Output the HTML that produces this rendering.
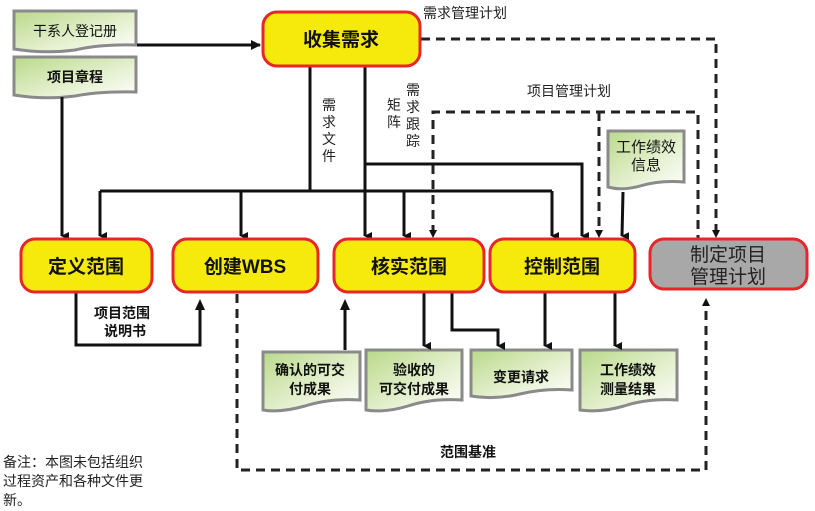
<!DOCTYPE html>
<html><head><meta charset="utf-8"><style>
html,body{margin:0;padding:0;background:#fff;}
svg{display:block;font-family:"Liberation Sans","Noto Sans CJK SC",sans-serif;}
.b{font-weight:bold;fill:#111;}
</style></head><body>
<svg width="815" height="511" viewBox="0 0 815 511" xmlns="http://www.w3.org/2000/svg">
<defs>
<linearGradient id="g" x1="0" y1="0" x2="1" y2="1">
<stop offset="0" stop-color="#b9d98a"/><stop offset="0.6" stop-color="#e6f1d2"/><stop offset="1" stop-color="#ffffff"/>
</linearGradient>
<marker id="a" markerWidth="8" markerHeight="8" refX="4" refY="7" orient="auto" markerUnits="userSpaceOnUse" viewBox="0 0 8 8">
<path d="M0,0 L8,0 L4,8 z" fill="#111"/></marker>
<marker id="ar" markerWidth="10" markerHeight="10" refX="9" refY="5" orient="auto" markerUnits="userSpaceOnUse" viewBox="0 0 10 10">
<path d="M0,0 L10,5 L0,10 z" fill="#111"/></marker>
</defs>

<!-- documents -->
<g stroke="#8a8a8a" stroke-width="3" fill="url(#g)">
<path d="M14,11 H136 V45 Q100,44 75,50 Q45,54 14,49 Z"/>
<path d="M14,57 H136 V92 Q100,91 75,96 Q45,100 14,95 Z"/>
<path d="M608,131 H684 V182 Q660,180 640,186 Q622,191 608,187 Z"/>
<path d="M263,352 H360 V400 Q330,398 305,406 Q280,413 263,410 Z"/>
<path d="M366,350 H462 V400 Q432,398 408,406 Q385,413 366,410 Z"/>
<path d="M471,350 H572 V390 Q545,388 520,394 Q495,400 471,396 Z"/>
<path d="M580,350 H677 V400 Q648,398 624,406 Q600,413 580,410 Z"/>
</g>
<g font-size="14" class="b" text-anchor="middle" fill="#222">
<text x="75" y="36" font-weight="normal">干系人登记册</text>
<text x="75" y="82">项目章程</text>
<text x="646" y="152" font-weight="normal" font-size="15">工作绩效</text>
<text x="646" y="170" font-weight="normal" font-size="15">信息</text>
<text x="310" y="375">确认的可交</text><text x="310" y="394">付成果</text>
<text x="414" y="375">验收的</text><text x="414" y="394">可交付成果</text>
<text x="521" y="382">变更请求</text>
<text x="628" y="375">工作绩效</text><text x="628" y="394">测量结果</text>
</g>

<!-- solid connectors -->
<g stroke="#111" stroke-width="3" fill="none">
<line x1="137" y1="45" x2="260" y2="45" marker-end="url(#ar)"/>
<line x1="62" y1="97" x2="62" y2="236" marker-end="url(#a)"/>
<polyline points="310,67 310,191"/>
<polyline points="100,191 552,191"/>
<line x1="100" y1="191" x2="100" y2="236" marker-end="url(#a)"/>
<line x1="241" y1="191" x2="241" y2="236" marker-end="url(#a)"/>
<line x1="404" y1="191" x2="404" y2="236" marker-end="url(#a)"/>
<line x1="552" y1="191" x2="552" y2="236" marker-end="url(#a)"/>
<line x1="365" y1="67" x2="365" y2="236" marker-end="url(#a)"/>
<polyline points="365,164 582,164 582,236" marker-end="url(#a)"/>
<line x1="623" y1="192" x2="622" y2="236" marker-end="url(#a)"/>
<polyline points="76,293 76,345 200,345 200,308"/>
<line x1="345" y1="350" x2="345" y2="308"/>
<line x1="424" y1="293" x2="424" y2="346" marker-end="url(#a)"/>
<polyline points="452,293 452,330 498,330 498,346" marker-end="url(#a)"/>
<line x1="545" y1="293" x2="545" y2="346" marker-end="url(#a)"/>
<line x1="615" y1="293" x2="615" y2="346" marker-end="url(#a)"/>
</g>
<g fill="#111">
<path d="M195,310 L205,310 L200,299 z"/>
<path d="M340,310 L350,310 L345,299 z"/>
</g>
<!-- dashed -->
<g stroke="#222" stroke-width="3" fill="none" stroke-dasharray="9,6">
<polyline points="421,39 716,39 716,234"/>
<polyline points="433,234 433,112 698,112 698,238"/>
<line x1="599" y1="112" x2="599" y2="234"/>
<polyline points="237,294 237,470 706,470 706,306"/>
</g>
<g fill="#111">
<path d="M712,230 L720,230 L716,238 z"/>
<path d="M429,230 L437,230 L433,238 z"/>
<path d="M595,230 L603,230 L599,238 z"/>
<path d="M702,306 L710,306 L706,298 z"/>
</g>

<!-- process boxes -->
<g stroke="#e8262a" stroke-width="3">
<rect x="263" y="12" width="157" height="54" rx="14" fill="#f5ea0c"/>
<rect x="21" y="239" width="131" height="53" rx="14" fill="#f5ea0c"/>
<rect x="173" y="239" width="145" height="53" rx="14" fill="#f5ea0c"/>
<rect x="334" y="239" width="150" height="53" rx="14" fill="#f5ea0c"/>
<rect x="490" y="239" width="145" height="53" rx="14" fill="#f5ea0c"/>
<rect x="650" y="239" width="157" height="50" rx="14" fill="#a8a8a8"/>
</g>
<g class="b" font-size="19" text-anchor="middle">
<text x="341" y="46">收集需求</text>
<text x="86" y="273">定义范围</text>
<text x="245" y="273">创建WBS</text>
<text x="409" y="273">核实范围</text>
<text x="562" y="273">控制范围</text>
</g>
<g font-size="19" text-anchor="middle" fill="#222">
<text x="728" y="261">制定项目</text>
<text x="728" y="283">管理计划</text>
</g>

<!-- labels -->
<g font-size="14" fill="#222">
<text x="423" y="18">需求管理计划</text>
<text x="527" y="96">项目管理计划</text>
<g text-anchor="middle">
<text x="329" y="110">需</text><text x="329" y="127">求</text><text x="329" y="144">文</text><text x="329" y="161">件</text>
<text x="413" y="95">需</text><text x="413" y="112">求</text><text x="413" y="129">跟</text><text x="413" y="146">踪</text>
<text x="394" y="110">矩</text><text x="394" y="127">阵</text>
</g>
<text x="94" y="318" class="b">项目范围</text>
<text x="104" y="336" class="b">说明书</text>
<text x="440" y="457" class="b">范围基准</text>
<text x="3" y="467">备注：本图未包括组织</text>
<text x="3" y="486">过程资产和各种文件更</text>
<text x="3" y="505">新。</text>
</g>
</svg>
</body></html>
